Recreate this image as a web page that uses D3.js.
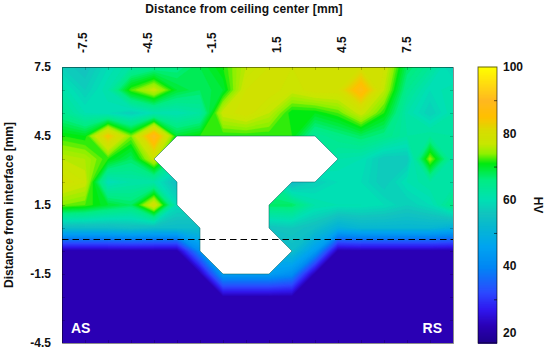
<!DOCTYPE html>
<html>
<head>
<meta charset="utf-8">
<script src="https://cdn.jsdelivr.net/npm/d3@7/dist/d3.min.js"></script>
<style>
  body { margin: 0; background: #fff; }
  text { font-family: "Liberation Sans", Arial, sans-serif; font-weight: bold; fill: #111; }
</style>
</head>
<body>
<div id="chart"></div>
<script>
const xTicks = [-7.5, -4.5, -1.5, 1.5, 4.5, 7.5];
const yTicks = [7.5, 4.5, 1.5, -1.5, -4.5];
const barTicks = [20, 40, 60, 80, 100];
const barMinorTicks = [30, 50, 70, 90];

// hardness, one row per mm from the top, 18 columns
const row0 = [58, 56, 60, 63, 65, 66, 69, 72, 77, 79, 79, 79, 79, 80, 79, 68, 64, 58];
const row1 = [62, 58, 62, 73, 78, 70, 68, 70, 79, 80, 78, 80, 80, 88, 77, 65, 60, 62];
const row2 = [65, 61, 60, 58, 61, 61, 63, 78, 80, 77, 71, 71, 73, 78, 72, 62, 58, 62];
const row3 = [72, 71, 85, 74, 90, 70, 72, 72, 72, 72, 72, 64, 66, 68, 66, 63, 64, 63];
const row4 = [77, 76, 72, 68, 78, 65, 65, 65, 65, 65, 65, 65, 62, 61, 57, 57, 75, 62];
const row5 = [80, 78, 60, 62, 62, 55, 65, 65, 65, 65, 54, 58, 60, 60, 57, 61, 63, 62];
const row6 = [74, 73, 70, 68, 80, 60, 60, 60, 60, 68, 68, 62, 61, 61, 60, 58, 60, 66];
const row7 = [54, 54, 54, 55, 54, 54, 54, 60, 60, 56, 57, 55, 50, 52, 52, 52, 52, 50];
const row8 = [22, 22, 22, 22, 22, 22, 42, 50, 50, 50, 54, 45, 22, 22, 22, 22, 22, 22];
const row9 = [22, 22, 22, 22, 22, 22, 22, 45, 45, 45, 42, 22, 22, 22, 22, 22, 22, 22];
const row10 = [22, 22, 22, 22, 22, 22, 22, 22, 22, 22, 22, 22, 22, 22, 22, 22, 22, 22];
const row11 = row10;
const row12 = row10;
const rows = [row0, row1, row2, row3, row4, row5, row6, row7, row8, row9, row10, row11, row12];

// keyhole left by the tool, column index and depth in mm
const holeCols = [5, 11, 12, 11, 10, 9, 9, 10, 9, 7, 6, 6, 5, 5, 4];
const holeDepths = [4.5, 4.5, 3.5, 2.5, 2.5, 1.5, 0.5, -0.5, -1.5, -1.5, -0.5, 0.5, 1.5, 2.5, 3.5];

const paletteValues = [16, 22, 27, 32, 40, 46, 52, 56, 60, 66, 71, 74, 77, 81, 85, 90, 100];
const paletteColors = ['#1c0084', '#2a00b4', '#3018ee', '#2c48ff', '#0088f4', '#00a4f0', '#08b8d0', '#12c4be', '#00e0b4', '#00ec84', '#00ea10', '#90f000', '#c8e600', '#d8dc00', '#ffc000', '#ffb820', '#ffff00'];

const width = 550;
const height = 350;
const plotLeft = 62;
const plotRight = 453;
const plotTop = 67;
const plotBottom = 343;
const barLeft = 478;
const barRight = 497;
const columnCount = row0.length;
const rowCount = rows.length;

const svg = d3.select('#chart').append('svg')
  .attr('width', width)
  .attr('height', height);

const colScale = d3.scaleLinear().domain([0, columnCount - 1]).range([plotLeft, plotRight]);
const depthScale = d3.scaleLinear().domain([7.5, -4.5]).range([plotTop, plotBottom]);
const rowScale = d3.scaleLinear().domain([0, rowCount - 1]).range([plotTop, plotBottom]);
// the x labels sit closer together than the data columns in the original
const xScale = d3.scaleLinear().domain([-7.5, 7.5]).range([82, 406]);
const barScale = d3.scaleLinear().domain([100, 20]).range([67, 332.5]);
const color = d3.scaleLinear().domain(paletteValues).range(paletteColors);

svg.append('clipPath').attr('id', 'plot-clip')
  .append('rect')
  .attr('x', plotLeft)
  .attr('y', plotTop)
  .attr('width', plotRight - plotLeft)
  .attr('height', plotBottom - plotTop);

/* filled map */
const thresholds = d3.range(16, 100, 1);
const contours = d3.contours()
  .size([columnCount, rowCount])
  .thresholds(thresholds)(rows.flat());

// d3.contours puts value i at i + 0.5
const path = d3.geoPath(d3.geoTransform({
  point(x, y) {
    this.stream.point(colScale(x - 0.5), rowScale(y - 0.5));
  }
}));

svg.append('g')
  .attr('clip-path', 'url(#plot-clip)')
  .selectAll('path')
  .data(contours)
  .join('path')
  .attr('d', path)
  .attr('fill', d => color(d.value))
  .attr('stroke', d => color(d.value))
  .attr('stroke-width', 0.3);

/* hole */
const holeLine = d3.line()
  .x(d => colScale(d[0]))
  .y(d => depthScale(d[1]))
  .curve(d3.curveLinearClosed);

svg.append('path')
  .datum(d3.zip(holeCols, holeDepths))
  .attr('d', holeLine)
  .attr('fill', '#fff')
  .attr('stroke', '#0a6a6a')
  .attr('stroke-opacity', 0.55)
  .attr('stroke-width', 1);

/* interface line */
svg.append('line')
  .attr('x1', plotLeft)
  .attr('x2', plotRight)
  .attr('y1', depthScale(0))
  .attr('y2', depthScale(0))
  .attr('stroke', '#000')
  .attr('stroke-width', 1.2)
  .attr('stroke-dasharray', '6.5,4');

/* frame and inner ticks */
const colIndexes = d3.range(1, columnCount - 1);
const rowIndexes = d3.range(1, rowCount - 1);
const frameColor = '#000';
const frameOpacity = 0.45;

function drawFrameAxis(axis, x, y) {
  const g = svg.append('g')
    .attr('transform', `translate(${x},${y})`)
    .call(axis.tickFormat('').tickSizeOuter(0));
  g.selectAll('line').attr('stroke', frameColor).attr('stroke-opacity', 0.2);
  g.select('path').attr('stroke', frameColor).attr('stroke-opacity', frameOpacity);
}

drawFrameAxis(d3.axisBottom(colScale).tickValues(colIndexes).tickSize(3), 0, plotTop);
drawFrameAxis(d3.axisTop(colScale).tickValues(colIndexes).tickSize(3), 0, plotBottom);
drawFrameAxis(d3.axisRight(rowScale).tickValues(rowIndexes).tickSize(3), plotLeft, 0);
drawFrameAxis(d3.axisLeft(rowScale).tickValues(rowIndexes).tickSize(3), plotRight, 0);

/* tick labels */
const xAxis = svg.append('g')
  .attr('transform', 'translate(0,53)')
  .call(d3.axisTop(xScale).tickValues(xTicks).tickSize(0).tickFormat(d => d));
xAxis.select('path').remove();
xAxis.selectAll('text')
  .attr('transform', 'rotate(-90)')
  .attr('x', 0)
  .attr('y', 0)
  .attr('dx', 0)
  .attr('dy', '0.35em')
  .attr('text-anchor', 'start')
  .style('font-size', '12px');

const yAxis = svg.append('g')
  .attr('transform', 'translate(51,0)')
  .call(d3.axisLeft(depthScale).tickValues(yTicks).tickSize(0).tickPadding(0).tickFormat(d => d));
yAxis.select('path').remove();
yAxis.selectAll('text').style('font-size', '12px');

/* titles */
svg.append('text')
  .attr('x', 244)
  .attr('y', 13)
  .attr('text-anchor', 'middle')
  .style('font-size', '12px')
  .style('letter-spacing', '0.12px')
  .text('Distance from ceiling center [mm]');

svg.append('text')
  .attr('transform', 'translate(13,205) rotate(-90)')
  .attr('text-anchor', 'middle')
  .style('font-size', '12px')
  .text('Distance from interface [mm]');

svg.append('text').attr('x', 71).attr('y', 333)
  .style('fill', '#fff').style('font-size', '14px').text('AS');
svg.append('text').attr('x', 442).attr('y', 333).attr('text-anchor', 'end')
  .style('fill', '#fff').style('font-size', '14px').text('RS');

/* colour bar */
const barValues = d3.range(barScale.invert(plotBottom), 100, 0.25);
svg.append('g')
  .selectAll('rect')
  .data(barValues)
  .join('rect')
  .attr('x', barLeft)
  .attr('width', barRight - barLeft)
  .attr('y', d => barScale(d + 0.25))
  .attr('height', barScale(0) - barScale(0.5))
  .attr('fill', d => color(d));

svg.append('rect')
  .attr('x', barLeft)
  .attr('y', plotTop)
  .attr('width', barRight - barLeft)
  .attr('height', plotBottom - plotTop)
  .attr('fill', 'none')
  .attr('stroke', frameColor)
  .attr('stroke-opacity', 0.6);

const barAxis = svg.append('g')
  .attr('transform', `translate(${barRight},0)`)
  .call(d3.axisLeft(barScale).tickValues(barMinorTicks).tickSize(3).tickFormat(''));
barAxis.select('path').remove();
barAxis.selectAll('line').attr('stroke', frameColor).attr('stroke-opacity', 0.6);

const barLabels = svg.append('g')
  .attr('transform', `translate(${barRight},0)`)
  .call(d3.axisRight(barScale).tickValues(barTicks).tickSize(0).tickPadding(6).tickFormat(d => d));
barLabels.select('path').remove();
barLabels.selectAll('text').style('font-size', '12px');

svg.append('text')
  .attr('transform', 'translate(534,205) rotate(90)')
  .attr('text-anchor', 'middle')
  .style('font-size', '12px')
  .text('HV');
</script>
</body>
</html>
